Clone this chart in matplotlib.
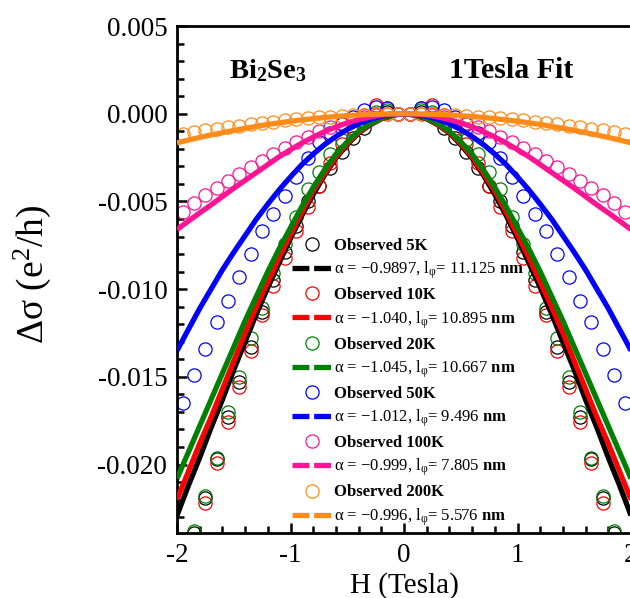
import matplotlib
matplotlib.use("Agg")
import matplotlib.pyplot as plt
from matplotlib.lines import Line2D
import numpy as np

plt.rcParams['font.family'] = ['Liberation Serif', 'DejaVu Serif']
plt.rcParams['mathtext.fontset'] = 'custom'
plt.rcParams['mathtext.rm'] = 'Liberation Serif'
plt.rcParams['mathtext.it'] = 'Liberation Serif:italic'
plt.rcParams['mathtext.bf'] = 'Liberation Serif:bold'
plt.rcParams['axes.unicode_minus'] = False

# ---------------- data ----------------
H_obs = [-1.95, -1.85, -1.75, -1.65, -1.55, -1.45, -1.35, -1.25, -1.15, -1.05,
         -0.95, -0.85, -0.75, -0.65, -0.55, -0.45, -0.35, -0.25, -0.15, -0.05,
         0.05, 0.15, 0.25, 0.35, 0.45, 0.55, 0.65, 0.75, 0.85, 0.95,
         1.05, 1.15, 1.25, 1.35, 1.45, 1.55, 1.65, 1.75, 1.85, 1.95]

obs_5K = [-0.0262, -0.0239, -0.0219, -0.0197, -0.0173, -0.0153, -0.0133, -0.0113, -0.0095, -0.0079,
          -0.0064, -0.0050, -0.0041, -0.0031, -0.0022, -0.0014, -0.0008, 0.0000, 0.0001, 0.0000,
          0.0000, 0.0001, 0.0000, -0.0008, -0.0014, -0.0022, -0.0031, -0.0041, -0.0050, -0.0064,
          -0.0079, -0.0095, -0.0113, -0.0133, -0.0153, -0.0173, -0.0197, -0.0219, -0.0239, -0.0262]
obs_10K = [-0.0265, -0.0243, -0.0222, -0.0199, -0.0176, -0.0156, -0.0135, -0.0115, -0.0098, -0.0082,
           -0.0067, -0.0053, -0.0041, -0.0028, -0.0017, -0.0008, -0.0001, 0.0005, 0.0003, 0.0000,
           0.0000, 0.0003, 0.0005, -0.0001, -0.0008, -0.0017, -0.0028, -0.0041, -0.0053, -0.0067,
           -0.0082, -0.0098, -0.0115, -0.0135, -0.0156, -0.0176, -0.0199, -0.0222, -0.0243, -0.0265]
obs_20K = [-0.0262, -0.0238, -0.0218, -0.0196, -0.0170, -0.0150, -0.0128, -0.0111, -0.0091, -0.0074,
           -0.0059, -0.0043, -0.0033, -0.0023, -0.0015, -0.0009, -0.0004, 0.0001, 0.0002, 0.0000,
           0.0000, 0.0002, 0.0001, -0.0004, -0.0009, -0.0015, -0.0023, -0.0033, -0.0043, -0.0059,
           -0.0074, -0.0091, -0.0111, -0.0128, -0.0150, -0.0170, -0.0196, -0.0218, -0.0238, -0.0262]
obs_50K = [-0.0165, -0.0149, -0.0134, -0.0119, -0.0107, -0.0093, -0.0080, -0.0067, -0.0057, -0.0047,
           -0.0036, -0.0025, -0.0016, -0.0011, -0.0006, -0.0002, 0.0002, 0.0004, 0.0003, 0.0000,
           0.0000, 0.0003, 0.0004, 0.0002, -0.0002, -0.0006, -0.0011, -0.0016, -0.0025, -0.0036,
           -0.0047, -0.0057, -0.0067, -0.0080, -0.0093, -0.0107, -0.0119, -0.0134, -0.0149, -0.0165]
obs_100K = [-0.0056, -0.0051, -0.00465, -0.00425, -0.00385, -0.00345, -0.00305, -0.00268, -0.0023, -0.00195,
            -0.0016, -0.0013, -0.0010, -0.00075, -0.00052, -0.00035, -0.0002, -0.0001, -0.00003, 0.0000,
            0.0000, -0.00003, -0.0001, -0.0002, -0.00035, -0.00052, -0.00075, -0.0010, -0.0013, -0.0016,
            -0.00195, -0.0023, -0.00268, -0.00305, -0.00345, -0.00385, -0.00425, -0.00465, -0.0051, -0.0056]
obs_200K = [-0.00116, -0.00105, -0.00095, -0.00086, -0.00077, -0.00068, -0.00060, -0.00052, -0.00045, -0.00038,
            -0.00032, -0.00026, -0.00021, -0.00016, -0.00012, -0.00008, -0.00005, -0.00003, -0.00001, 0.0000,
            0.0000, -0.00001, -0.00003, -0.00005, -0.00008, -0.00012, -0.00016, -0.00021, -0.00026, -0.00032,
            -0.00038, -0.00045, -0.00052, -0.00060, -0.00068, -0.00077, -0.00086, -0.00095, -0.00105, -0.00116]

H_fit = [-2.0, -1.9, -1.8, -1.7, -1.6, -1.5, -1.4, -1.3, -1.2, -1.1, -1.0,
         -0.9, -0.8, -0.7, -0.6, -0.5, -0.4, -0.3, -0.2, -0.1, 0.0,
         0.1, 0.2, 0.3, 0.4, 0.5, 0.6, 0.7, 0.8, 0.9, 1.0,
         1.1, 1.2, 1.3, 1.4, 1.5, 1.6, 1.7, 1.8, 1.9, 2.0]

fit_5K = [-0.0229, -0.0212, -0.0196, -0.0179, -0.0163, -0.0146, -0.0130, -0.0114, -0.0099, -0.0085, -0.0071,
          -0.0058, -0.0046, -0.0035, -0.00253, -0.00176, -0.0011, -0.00064, -0.00029, -0.00008, 0.0,
          -0.00008, -0.00029, -0.00064, -0.0011, -0.00176, -0.00253, -0.0035, -0.0046, -0.0058, -0.0071,
          -0.0085, -0.0099, -0.0114, -0.0130, -0.0146, -0.0163, -0.0179, -0.0196, -0.0212, -0.0229]
fit_10K = [-0.0220, -0.0204, -0.0188, -0.0173, -0.0157, -0.0141, -0.0125, -0.0110, -0.0096, -0.0082, -0.0069,
           -0.0056, -0.0044, -0.0034, -0.00245, -0.0017, -0.00107, -0.00062, -0.00028, -0.00007, 0.0,
           -0.00007, -0.00028, -0.00062, -0.00107, -0.0017, -0.00245, -0.0034, -0.0044, -0.0056, -0.0069,
           -0.0082, -0.0096, -0.0110, -0.0125, -0.0141, -0.0157, -0.0173, -0.0188, -0.0204, -0.0220]
fit_20K = [-0.0208, -0.0193, -0.0178, -0.0163, -0.0148, -0.0133, -0.0118, -0.0104, -0.0090, -0.0077, -0.0065,
           -0.0053, -0.0042, -0.0032, -0.0023, -0.0016, -0.0010, -0.00058, -0.00026, -0.00007, 0.0,
           -0.00007, -0.00026, -0.00058, -0.0010, -0.0016, -0.0023, -0.0032, -0.0042, -0.0053, -0.0065,
           -0.0077, -0.0090, -0.0104, -0.0118, -0.0133, -0.0148, -0.0163, -0.0178, -0.0193, -0.0208]
fit_50K = [-0.0135, -0.0123, -0.0111, -0.0100, -0.0089, -0.0079, -0.00695, -0.0060, -0.00515, -0.00434, -0.0036,
           -0.0029, -0.0023, -0.00176, -0.0013, -0.0009, -0.000576, -0.000324, -0.000144, -0.000036, 0.0,
           -0.000036, -0.000144, -0.000324, -0.000576, -0.0009, -0.0013, -0.00176, -0.0023, -0.0029, -0.0036,
           -0.00434, -0.00515, -0.0060, -0.00695, -0.0079, -0.0089, -0.0100, -0.0111, -0.0123, -0.0135]
fit_100K = [-0.0066, -0.00612, -0.00565, -0.0052, -0.00472, -0.00425, -0.0038, -0.00335, -0.0029, -0.00245, -0.00205,
            -0.00167, -0.00133, -0.00102, -0.00075, -0.00052, -0.00034, -0.00019, -0.00008, -0.00002, 0.0,
            -0.00002, -0.00008, -0.00019, -0.00034, -0.00052, -0.00075, -0.00102, -0.00133, -0.00167, -0.00205,
            -0.00245, -0.0029, -0.00335, -0.0038, -0.00425, -0.00472, -0.0052, -0.00565, -0.00612, -0.0066]
fit_200K = [-0.00166, -0.0015, -0.00135, -0.00121, -0.00108, -0.00095, -0.00083, -0.00072, -0.00061, -0.00052, -0.00043,
            -0.00035, -0.00028, -0.00021, -0.00016, -0.00011, -0.00007, -0.00004, -0.00002, -0.000004, 0.0,
            -0.000004, -0.00002, -0.00004, -0.00007, -0.00011, -0.00016, -0.00021, -0.00028, -0.00035, -0.00043,
            -0.00052, -0.00061, -0.00072, -0.00083, -0.00095, -0.00108, -0.00121, -0.00135, -0.0015, -0.00166]

temps = ["5K", "10K", "20K", "50K", "100K", "200K"]
alphas = ["\u22120.9897", "\u22121.040", "\u22121.045", "\u22121.012", "\u22120.999", "\u22120.996"]
lphis = ["11.125", "10.895", "10.667", "9.496", "7.805", "5.576"]
colors = ["black", "red", "green", "blue", "#FF1493", "#FF8C1A"]

obs_all = [obs_5K, obs_10K, obs_20K, obs_50K, obs_100K, obs_200K]
fit_all = [fit_5K, fit_10K, fit_20K, fit_50K, fit_100K, fit_200K]

# ---------------- figure ----------------
W, Hh = 630, 598
fig = plt.figure(figsize=(W / 100, Hh / 100), dpi=100)
ax = fig.add_axes([177 / W, (Hh - 533) / Hh, (631 - 177) / W, (533 - 26) / Hh])

for c, o in zip(colors, obs_all):
    ax.plot(H_obs, o, linestyle='none', marker='o', markersize=9.5,
            markerfacecolor='none', markeredgecolor=c, markeredgewidth=0.9, zorder=2)
for c, f in zip(colors, fit_all):
    ax.plot(H_fit, f, color=c, linewidth=3.8, solid_capstyle='butt', zorder=3)

ax.set_xlim(-2, 2)
ax.set_ylim(-0.0239, 0.005)
ax.set_xticks([-2, -1, 0, 1, 2])
ax.set_xticklabels(["-2", "-1", "0", "1", "2"])
ax.set_yticks([0.005, 0.0, -0.005, -0.010, -0.015, -0.020])
ax.set_yticklabels(["0.005", "0.000", "-0.005", "-0.010", "-0.015", "-0.020"])
ax.set_xticks(np.arange(-2, 2.01, 0.2), minor=True)
ax.set_yticks(np.arange(-0.023, 0.0051, 0.001), minor=True)

ax.tick_params(which='both', direction='in', width=1.8, labelsize=19.5,
               top=False, right=False)
ax.tick_params(which='major', length=7, pad=7)
ax.tick_params(which='minor', length=5)
for s in ['left', 'bottom', 'top']:
    ax.spines[s].set_linewidth(2.0)
ax.spines['right'].set_visible(False)

ax.set_xlabel("H (Tesla)", fontsize=21, labelpad=3)
ax.set_ylabel("\u0394\u03c3 (e$^{2}$/h)", fontsize=27)
ax.yaxis.set_label_coords((53 - 177) / 454, (533 - 274) / 507)

ax.text(268 / W, 1 - 78 / Hh, r"Bi$_\mathbf{2}$Se$_\mathbf{3}$", transform=fig.transFigure,
        fontsize=20.5, fontweight='bold', ha='center', va='baseline')
ax.text(511 / W, 1 - 78 / Hh, "1Tesla Fit", transform=fig.transFigure,
        fontsize=21.5, fontweight='bold', ha='center', va='baseline')

# legend
handles, labels = [], []
for c, t, a, l in zip(colors, temps, alphas, lphis):
    handles.append(Line2D([], [], linestyle='none', marker='o', markersize=9.5,
                          markerfacecolor='none', markeredgecolor=c, markeredgewidth=0.9))
    labels.append("Observed " + t)
    handles.append(Line2D([], [], color=c, linewidth=3.8, linestyle=(0, (3.2, 0.9, 3.2, 10))))
    labels.append("\u03b1 = " + a + ", l$_\\mathrm{\u03c6}$= " + l + r" $\mathbf{nm}$")

leg = fig.legend(handles, labels, loc='upper left', bbox_to_anchor=(292 / W, 1 - 238 / Hh),
                 frameon=False, fontsize=12, handlelength=2.4, handletextpad=0.15,
                 labelspacing=0.35, borderpad=0, borderaxespad=0)
for t in leg.get_texts():
    if t.get_text().startswith("Observed"):
        t.set_fontweight('bold')

fig.savefig("out.png", dpi=100)
